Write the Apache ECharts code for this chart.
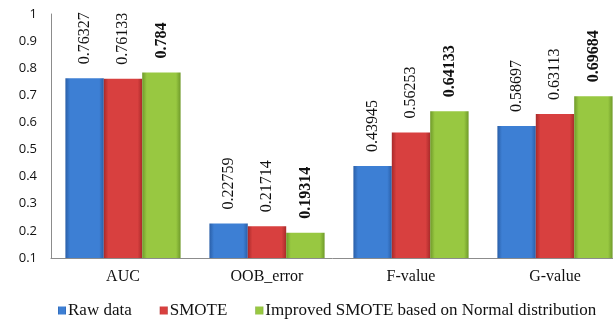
<!DOCTYPE html>
<html>
<head>
<meta charset="utf-8">
<script src="https://cdn.jsdelivr.net/npm/echarts@6/dist/echarts.min.js"></script>
<style>
  html, body { margin: 0; padding: 0; background: #fff; }
  #chart { width: 613px; height: 329px; }
</style>
</head>
<body>
<div id="chart"></div>
<script>
// categories and series values
const categories = ['AUC', 'OOB_error', 'F-value', 'G-value'];
const rawData = [0.76327, 0.22759, 0.43945, 0.58697];
const smote = [0.76133, 0.21714, 0.56253, 0.63113];
const improved = [0.784, 0.19314, 0.64133, 0.69684];
const seriesNames = ['Raw data', 'SMOTE', 'Improved SMOTE based on Normal distribution'];

const serif = '"Liberation Serif", "DejaVu Serif", serif';

function grad(light, dark) {
  return new echarts.graphic.LinearGradient(0, 0, 1, 0, [
    { offset: 0, color: dark },
    { offset: 0.12, color: light },
    { offset: 0.88, color: light },
    { offset: 1, color: dark },
  ]);
}

function makeSeries(name, data, light, dark, bold) {
  return {
    name,
    type: 'bar',
    data,
    barGap: '0%',
    barCategoryGap: '20%',
    itemStyle: { color: grad(light, dark) },
    label: {
      show: true,
      position: 'top',
      rotate: 90,
      distance: 14,
      align: 'left',
      verticalAlign: 'middle',
      fontFamily: serif,
      fontSize: 16,
      fontWeight: bold ? 'bold' : 'normal',
      color: '#111',
      formatter: p => String(p.value),
    },
  };
}

const myChart = echarts.init(document.getElementById('chart'));
const option = {
  animation: false,
  color: ['#3a77c9', '#d13d3c', '#93c23e'],
  grid: { left: 51, top: 14, width: 576, height: 244, outerBoundsMode: 'none' },
  legend: {
    bottom: 5,
    left: 53,
    itemWidth: 8,
    itemHeight: 8,
    itemGap: 28,
    icon: 'rect',
    textStyle: { fontFamily: serif, fontSize: 17, color: '#111', padding: [0, 0, 0, -3] },
    data: seriesNames,
  },
  xAxis: {
    type: 'category',
    data: categories,
    axisLine: { lineStyle: { color: '#8c8c8c' } },
    axisTick: { show: false },
    axisLabel: { fontFamily: serif, fontSize: 16, color: '#111', margin: 11 },
  },
  yAxis: {
    type: 'value',
    min: 0.1,
    max: 1,
    interval: 0.1,
    splitLine: { show: false },
    axisLine: { show: true, lineStyle: { color: '#8c8c8c' } },
    axisTick: { show: false },
    axisLabel: {
      fontFamily: '"Open Sans", "DejaVu Sans", sans-serif',
      fontSize: 13,
      color: '#111',
      margin: 14,
      formatter: v => String(Math.round(v * 10) / 10),
    },
  },
  series: [
    makeSeries(seriesNames[0], rawData, '#3d7fd4', '#2a5fa8', false),
    makeSeries(seriesNames[1], smote, '#d8403f', '#a92a2a', false),
    makeSeries(seriesNames[2], improved, '#98c841', '#6f9a2a', true),
  ],
};
myChart.setOption(option);
</script>
</body>
</html>
